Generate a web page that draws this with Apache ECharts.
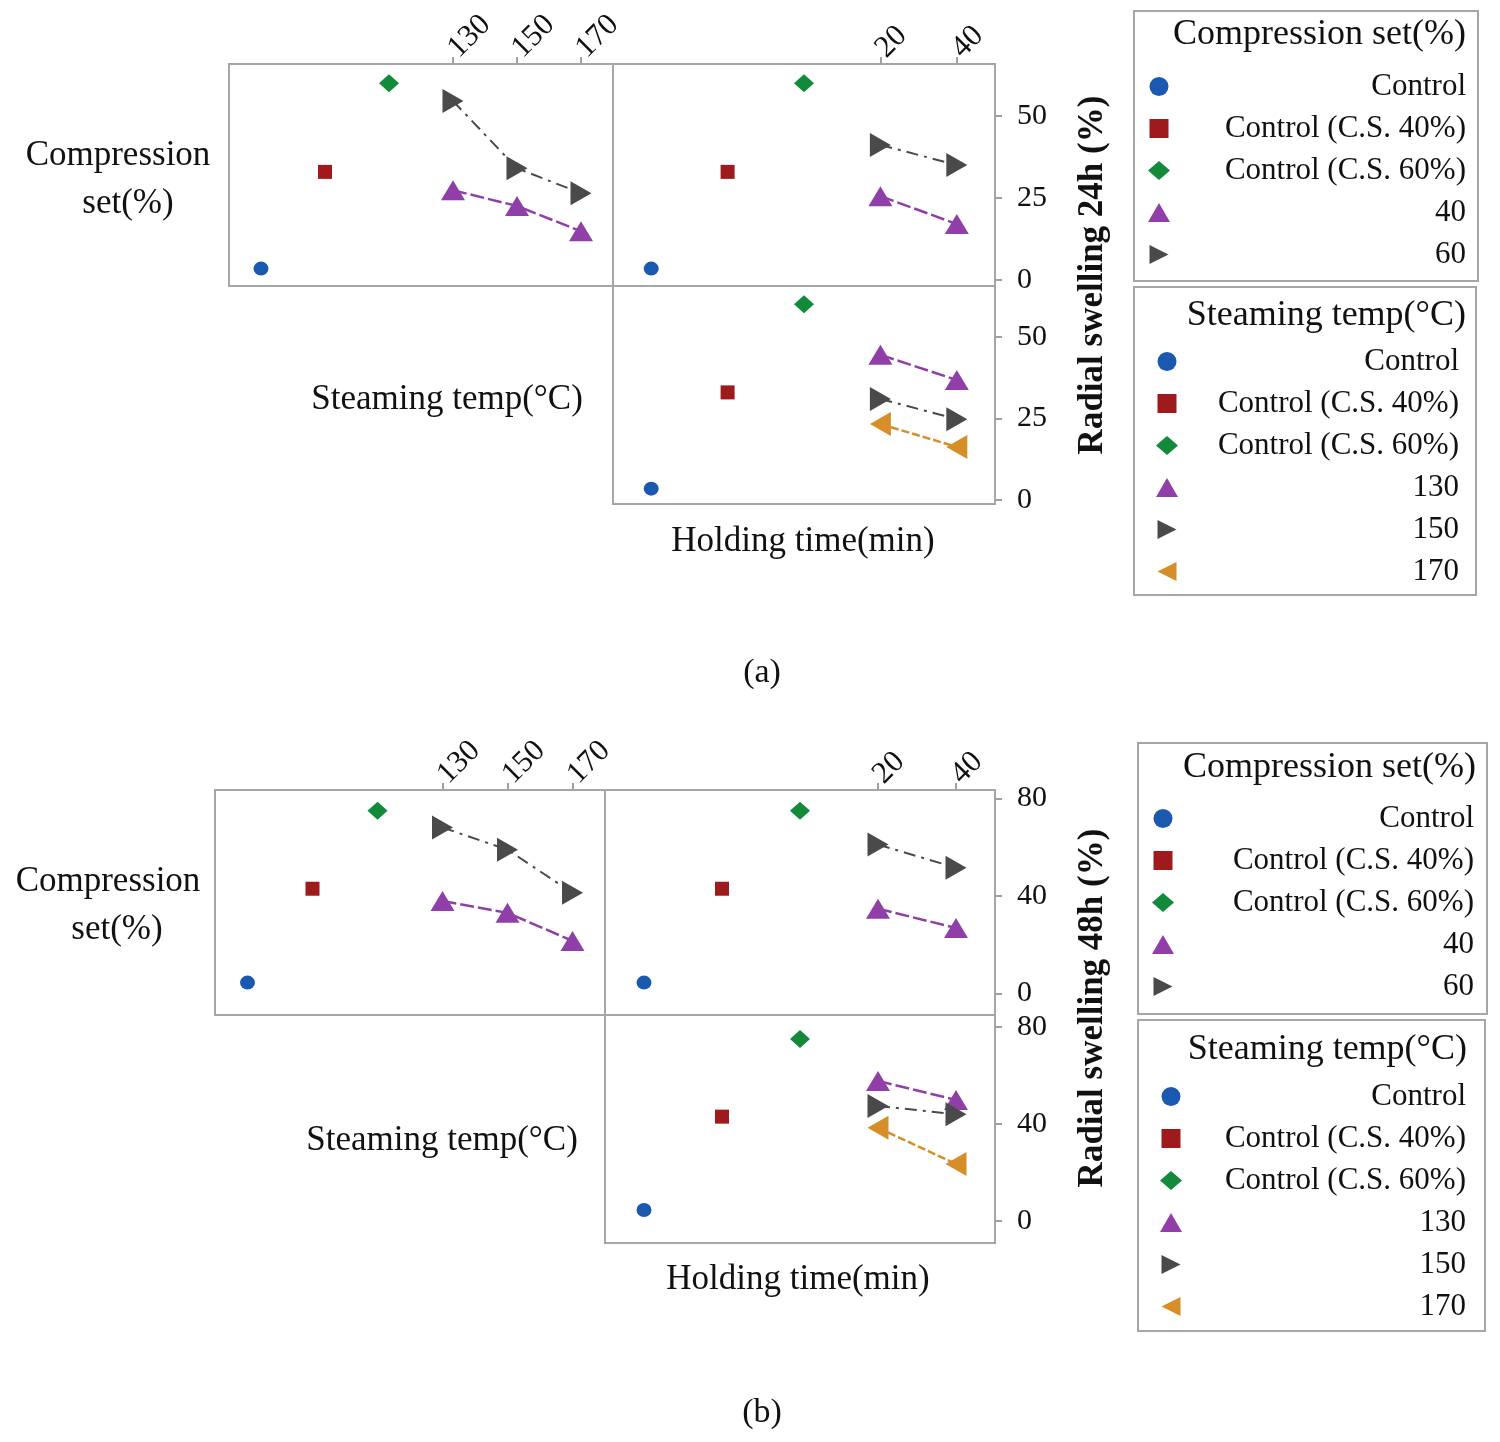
<!DOCTYPE html>
<html><head><meta charset="utf-8">
<script src="https://cdn.jsdelivr.net/npm/echarts@6/dist/echarts.min.js"></script>
<style>html,body{margin:0;padding:0;background:#fff}#c{width:1500px;height:1442px}</style>
</head><body><div id="c"></div>
<script>
// ---------- categories & ticks ----------
const controlNames = ['Control', 'Control (C.S. 40%)', 'Control (C.S. 60%)'];
const tempCats = ['Control', 'Control (C.S. 40%)', 'Control (C.S. 60%)', '130', '150', '170'];
const timeCats = ['Control', 'Control (C.S. 40%)', 'Control (C.S. 60%)', '20', '40'];
const tempLevels = ['130', '150', '170'];
const timeLevels = ['20', '40'];
const csLegendNames = ['Control', 'Control (C.S. 40%)', 'Control (C.S. 60%)', '40', '60'];
const stLegendNames = ['Control', 'Control (C.S. 40%)', 'Control (C.S. 60%)', '130', '150', '170'];
const yTicksA = [0, 25, 50];
const yTicksB = [0, 40, 80];

// ---------- (a) radial swelling 24h ----------
const a_controls = [3.5, 33, 60];
const a_temp_cs40 = [27.4, 22.6, 14.9];
const a_temp_cs60 = [54.6, 34.1, 26.5];
const a_time_cs40 = [25.6, 17.1];
const a_time_cs60 = [41.2, 35.1];
const a_time_t130 = [44.5, 36.8];
const a_time_t150 = [31.0, 24.8];
const a_time_t170 = [23.3, 16.3];

// ---------- (b) radial swelling 48h ----------
const b_controls = [4.5, 43, 75];
const b_temp_cs40 = [38.0, 33.1, 21.6];
const b_temp_cs60 = [68.1, 59.0, 41.3];
const b_time_cs40 = [34.8, 26.9];
const b_time_cs60 = [61.1, 51.6];
const b_time_t130 = [57.7, 49.9];
const b_time_t150 = [47.4, 44.0];
const b_time_t170 = [38.4, 23.5];

// ---------- styles ----------
const FONT = '"Liberation Serif", "Times New Roman", serif';
const COL = {blue:'#1b58b0', red:'#9e1a1c', green:'#118a39', purple:'#913fa8', gray:'#4a4a4a', orange:'#d68e28'};
const TRI_R = 'path://M0,0L10,5L0,10Z';
const TRI_L = 'path://M10,0L0,5L10,10Z';
const CTRL_STYLE = {
  'Control': {symbol:'circle', size:[15,14], color:COL.blue},
  'Control (C.S. 40%)': {symbol:'rect', size:14, color:COL.red},
  'Control (C.S. 60%)': {symbol:'diamond', size:[20,18], color:COL.green}
};
const LINE_STYLE = {
  '40':  {symbol:'triangle', size:[24,20], color:COL.purple, dash:[14,4], width:2.5},
  '60':  {symbol:TRI_R, size:[21,24], color:COL.gray, dash:[12,6,3,6], width:2},
  '130': {symbol:'triangle', size:[24,20], color:COL.purple, dash:[14,4], width:2.5},
  '150': {symbol:TRI_R, size:[21,24], color:COL.gray, dash:[12,6,3,6], width:2},
  '170': {symbol:TRI_L, size:[21,24], color:COL.orange, dash:[8,3], width:2.5}
};
const LEGEND_ICON = {
  'Control':'circle', 'Control (C.S. 40%)':'path://M0,0H10V10H0Z', 'Control (C.S. 60%)':'diamond',
  '40':'triangle', '60':TRI_R, '130':'triangle', '150':TRI_R, '170':TRI_L
};

const grids = [
  {left:229, top:64, width:384, height:222},
  {left:613, top:64, width:382, height:222},
  {left:613, top:286, width:382, height:218},
  {left:215, top:790, width:390, height:225},
  {left:605, top:790, width:390, height:225},
  {left:605, top:1015, width:390, height:228}
].map(g => Object.assign({show:true, borderColor:'#a6a6a6', borderWidth:2, backgroundColor:'transparent', containLabel:false, outerBoundsMode:'none'}, g));

function xAx(gridIndex, cats, levels, show) {
  return {
    type:'category', gridIndex, data:cats, position:'top', boundaryGap:true, show,
    axisLine:{show:false, onZero:false}, splitLine:{show:false},
    axisTick:{show:true, alignWithLabel:true, interval:(i, v) => levels.indexOf(v) >= 0, length:7, lineStyle:{color:'#a0a0a0', width:2}},
    axisLabel:{interval:(i, v) => levels.indexOf(v) >= 0, rotate:-45, margin:11, fontFamily:FONT, fontSize:31, color:'#111'}
  };
}
function yAx(gridIndex, min, max, ticks, show) {
  return {
    type:'value', gridIndex, min, max, position:'right', show,
    axisLine:{show:false, onZero:false}, splitLine:{show:false},
    axisTick:{show:true, length:7, customValues:ticks, lineStyle:{color:'#a0a0a0', width:2}},
    axisLabel:{customValues:ticks, margin:22, fontFamily:FONT, fontSize:30, color:'#111'}
  };
}
function ctrlSeries(ai, cats, vals) {
  return controlNames.map((n, k) => ({
    type:'scatter', name:n, xAxisIndex:ai, yAxisIndex:ai,
    symbol:CTRL_STYLE[n].symbol, symbolSize:CTRL_STYLE[n].size,
    itemStyle:{color:CTRL_STYLE[n].color, opacity:1}, data:[[cats[k], vals[k]]]
  }));
}
function lineSeries(ai, name, cats, vals) {
  const s = LINE_STYLE[name];
  return {
    type:'line', name, xAxisIndex:ai, yAxisIndex:ai,
    data:cats.map((c, i) => [c, vals[i]]),
    symbol:s.symbol, symbolSize:s.size, symbolKeepAspect:false,
    itemStyle:{color:s.color, opacity:1}, lineStyle:{color:s.color, width:s.width, type:s.dash, opacity:1}
  };
}
function legend(left, top, pad, textW, names) {
  return {
    orient:'vertical', left, top, padding:pad, itemWidth:22, itemHeight:19, itemGap:11,
    borderColor:'#a6a6a6', borderWidth:2, selectedMode:false,
    itemStyle:{opacity:1},
    data:names.map(n => ({name:n, icon:LEGEND_ICON[n]})),
    formatter:n => '{t|' + n + '}',
    textStyle:{rich:{t:{width:textW, align:'right', fontFamily:FONT, fontSize:31, lineHeight:30, color:'#111'}}}
  };
}
function txt(text, x, y, size, opts) {
  opts = opts || {};
  return {
    type:'text', x, y, rotation:opts.rot || 0, z:100,
    style:{text, font:(opts.bold ? 'bold ' : '') + size + 'px ' + FONT, fill:'#111',
      textAlign:opts.align || 'center', textVerticalAlign:'middle', align:opts.align || 'center', verticalAlign:'middle'}
  };
}

const series = [].concat(
  ctrlSeries(0, tempCats, a_controls),
  [lineSeries(0, '40', tempLevels, a_temp_cs40), lineSeries(0, '60', tempLevels, a_temp_cs60)],
  ctrlSeries(1, timeCats, a_controls),
  [lineSeries(1, '40', timeLevels, a_time_cs40), lineSeries(1, '60', timeLevels, a_time_cs60)],
  ctrlSeries(2, timeCats, a_controls),
  [lineSeries(2, '130', timeLevels, a_time_t130), lineSeries(2, '150', timeLevels, a_time_t150), lineSeries(2, '170', timeLevels, a_time_t170)],
  ctrlSeries(3, tempCats, b_controls),
  [lineSeries(3, '40', tempLevels, b_temp_cs40), lineSeries(3, '60', tempLevels, b_temp_cs60)],
  ctrlSeries(4, timeCats, b_controls),
  [lineSeries(4, '40', timeLevels, b_time_cs40), lineSeries(4, '60', timeLevels, b_time_cs60)],
  ctrlSeries(5, timeCats, b_controls),
  [lineSeries(5, '130', timeLevels, b_time_t130), lineSeries(5, '150', timeLevels, b_time_t150), lineSeries(5, '170', timeLevels, b_time_t170)]
);

const option = {
  animation:false,
  backgroundColor:'#fff',
  grid:grids,
  xAxis:[
    xAx(0, tempCats, tempLevels, true), xAx(1, timeCats, timeLevels, true), xAx(2, timeCats, [], false),
    xAx(3, tempCats, tempLevels, true), xAx(4, timeCats, timeLevels, true), xAx(5, timeCats, [], false)
  ],
  yAxis:[
    yAx(0, -1.8, 65.9, yTicksA, false), yAx(1, -1.8, 65.9, yTicksA, true), yAx(2, -1.2, 65.6, yTicksA, true),
    yAx(3, -8.8, 83.5, yTicksB, false), yAx(4, -8.8, 83.5, yTicksB, true), yAx(5, -9.1, 84.9, yTicksB, true)
  ],
  legend:[
    legend(1134, 11, [60, 12, 11, 14], 291, csLegendNames),
    legend(1134, 287, [59, 17, 8, 22], 276, stLegendNames),
    legend(1138, 743, [60, 13, 12, 14], 295, csLegendNames),
    legend(1138, 1020, [61, 19, 9, 22], 279, stLegendNames)
  ],
  graphic:[
    txt('Compression', 118, 156, 35), txt('set(%)', 128, 204, 35),
    txt('Steaming temp(°C)', 447, 400, 35),
    txt('Holding time(min)', 803, 542, 35),
    txt('Radial swelling 24h (%)', 1093, 275, 35, {bold:true, rot:Math.PI/2}),
    txt('Compression set(%)', 1466, 35, 36, {align:'right'}),
    txt('Steaming temp(°C)', 1466, 316, 36, {align:'right'}),
    txt('(a)', 762, 673, 34),
    txt('Compression', 108, 882, 35), txt('set(%)', 117, 930, 35),
    txt('Steaming temp(°C)', 442, 1141, 35),
    txt('Holding time(min)', 798, 1280, 35),
    txt('Radial swelling 48h (%)', 1093, 1008, 35, {bold:true, rot:Math.PI/2}),
    txt('Compression set(%)', 1476, 768, 36, {align:'right'}),
    txt('Steaming temp(°C)', 1467, 1050, 36, {align:'right'}),
    txt('(b)', 762, 1413, 34)
  ],
  series
};
const chart = echarts.init(document.getElementById('c'), null, {renderer:'canvas'});
chart.setOption(option);
</script>
</body></html>
